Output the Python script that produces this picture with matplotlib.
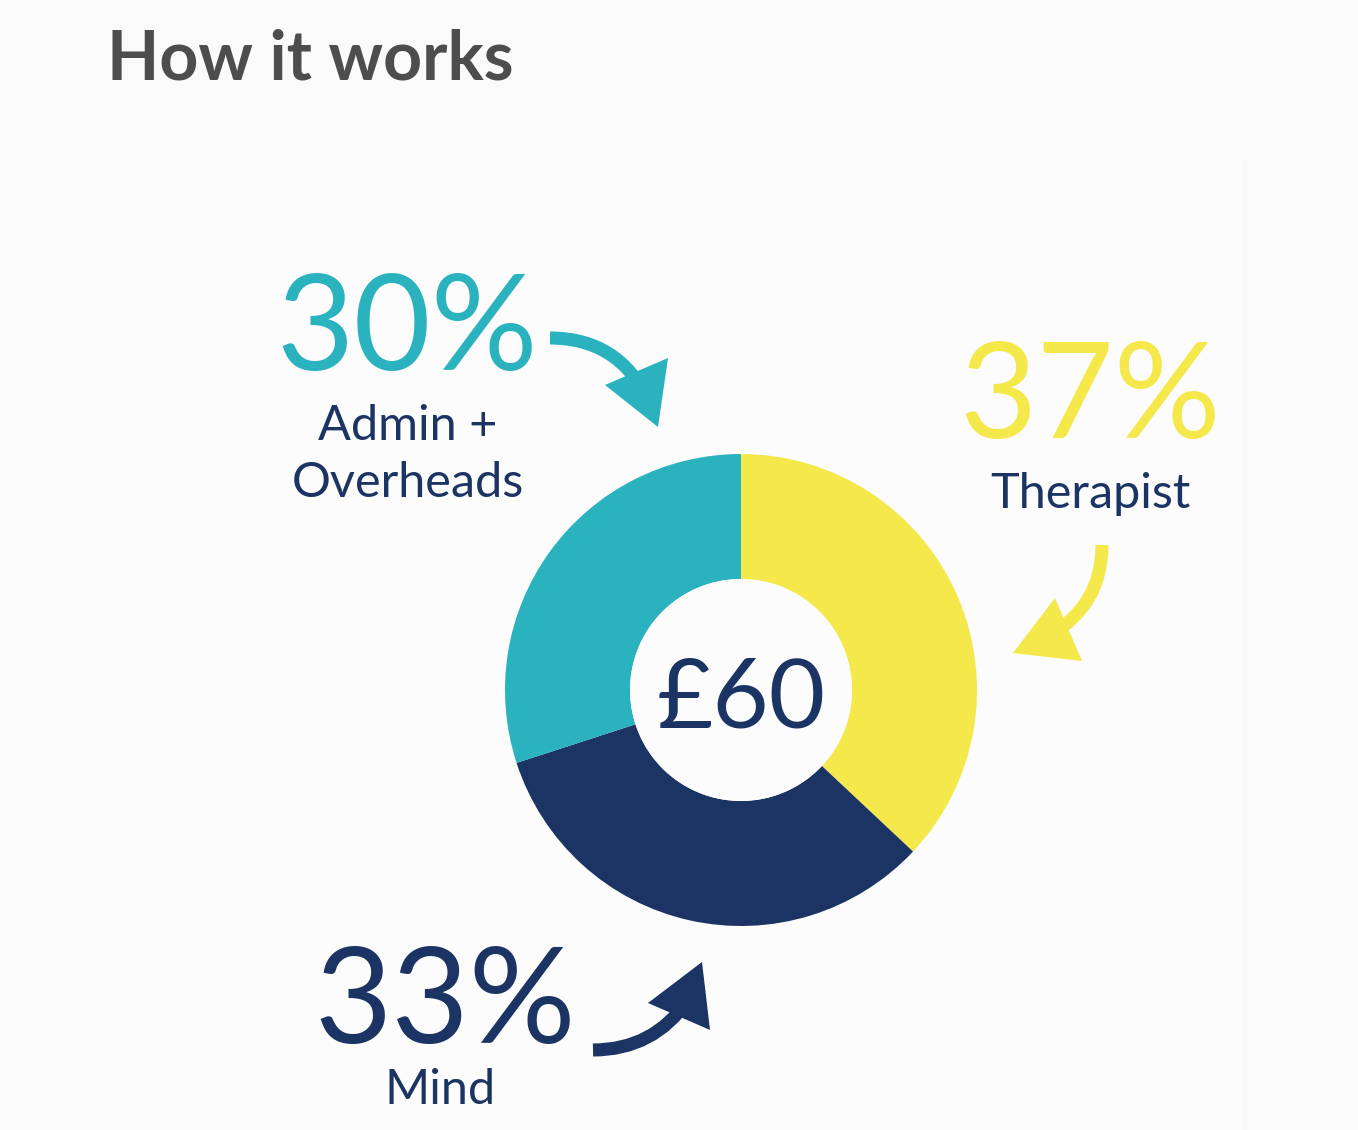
import matplotlib.pyplot as plt
import matplotlib as mpl
from matplotlib.patches import FancyArrowPatch, Rectangle, Polygon

mpl.rcParams.update({
    "font.family": ["Lato", "DejaVu Sans"],
})

# data
labels = ['Therapist', 'Mind', 'Admin +\nOverheads']
shares = [37, 33, 30]
colors = ['#f5e84a', '#1b3463', '#2ab3be']
total_label = '£60'

navy = '#1b3463'
H = 1130  # work in pixel-like units, y up

fig = plt.figure(figsize=(13.58, 11.30), dpi=100, facecolor='#fafafa')
ax = fig.add_axes([0, 0, 1, 1])
ax.set_facecolor('#fafafa')

# faint panel behind the chart
ax.add_patch(Rectangle((241, 0), 1001, H - 159, facecolor='#fcfcfc', edgecolor='none', zorder=0))

cx, cy = 741, H - 690
r_out, r_in = 236, 111
ax.pie(shares, colors=colors, startangle=90, counterclock=False,
       center=(cx, cy), radius=r_out,
       wedgeprops=dict(width=r_out - r_in, edgecolor='none', linewidth=0))
ax.add_patch(plt.Circle((cx, cy), r_in, facecolor='#fcfcfc', edgecolor='none', zorder=3))
ax.text(cx, H - 727, total_label, fontsize=70, color=navy, ha='center', va='baseline', zorder=4)

# title
ax.text(107, H - 80, 'How it works', fontsize=49, fontweight='bold', color='#4d4d4d',
        ha='left', va='baseline')

# percentages and names
pct_kw = dict(fontsize=96, ha='center', va='baseline')
name_kw = dict(fontsize=35, color=navy, ha='center', va='baseline')

ax.text(407, H - 370, f'{shares[2]}%', color=colors[2], **pct_kw)
ax.text(408, H - 440, 'Admin +', **name_kw)
ax.text(408, H - 497, 'Overheads', **name_kw)

ax.text(1090, H - 438, f'{shares[0]}%', color=colors[0], **pct_kw)
ax.text(1090, H - 508, labels[0], **name_kw)

ax.text(445, H - 1043, f'{shares[1]}%', color=colors[1], **pct_kw)
ax.text(440, H - 1104, labels[1], **name_kw)

# curved arrows: shaft (start, end, rad) + triangular head
arrows = [
    ((550, 338), (648, 400), -0.316, [(668, 358), (605, 385), (658, 427)], colors[2]),
    ((1102, 545), (1050, 635), -0.289, [(1055, 598), (1082, 661), (1013, 653)], colors[0]),
    ((593, 1050), (688, 1000), 0.263, [(648, 1003), (710, 1030), (702, 962)], colors[1]),
]
for (sx, sy), (ex, ey), rad, head, c in arrows:
    ax.add_patch(FancyArrowPatch((sx, H - sy), (ex, H - ey), arrowstyle='-',
                                 connectionstyle=f'arc3,rad={rad}', color=c, lw=9.4,
                                 capstyle='butt', shrinkA=0, shrinkB=0, zorder=5))
    ax.add_patch(Polygon([(x, H - y) for x, y in head], closed=True, facecolor=c,
                         edgecolor='none', zorder=6))

ax.set_xlim(0, 1358)
ax.set_ylim(0, H)
ax.set_aspect('equal')
ax.axis('off')

fig.savefig('out.png', dpi=100, facecolor=fig.get_facecolor())
